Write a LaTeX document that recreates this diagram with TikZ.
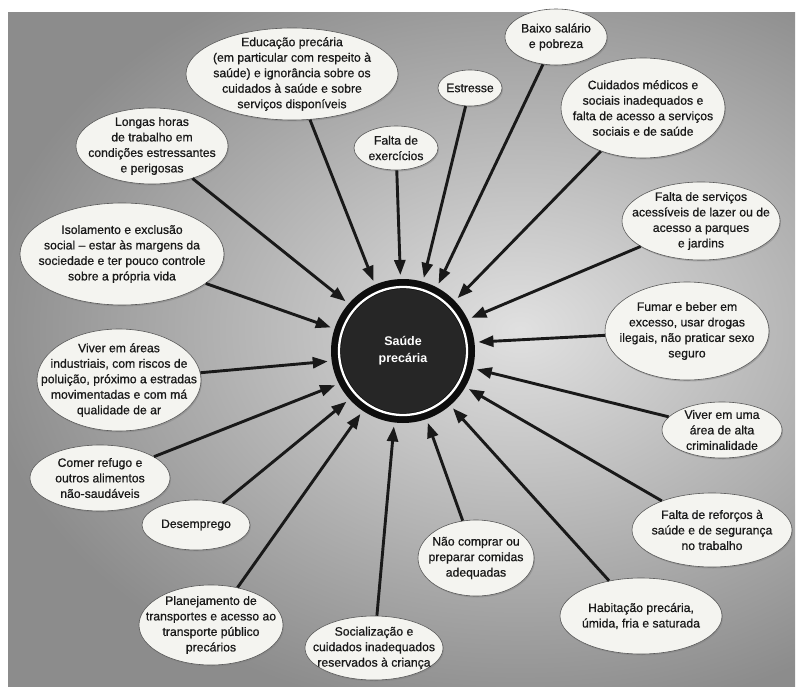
\documentclass[tikz,border=0pt]{standalone}
\usepackage{fontspec}
\setmainfont{Liberation Sans}
\newfontfamily\bubfont[FakeBold=0.7]{Liberation Sans}
\usetikzlibrary{shapes.geometric,arrows.meta,shadows}
\definecolor{bubfill}{HTML}{F4F4F0}
\begin{document}
\begin{tikzpicture}[x=1pt,y=-1pt,
  bub/.style={ellipse, fill=bubfill, draw=black!65, line width=0.6pt, inner sep=0pt,
    drop shadow={shadow xshift=1pt,shadow yshift=-1.5pt,opacity=0.45}},
  btext/.style={align=center, inner sep=0pt, text=black!90,
    font=\bubfont\fontsize{12.2}{15.5}\selectfont},
  arr/.style={line width=2.9pt, draw=black!90, -{Triangle[length=15pt,width=11pt]}, shorten >=4pt}]
\useasboundingbox (0,0) rectangle (799,692);
\fill[white] (0,0) rectangle (799,692);
\begin{scope}
  \clip (8,13) rectangle (795,686);
  \shade[inner color=black!12, outer color=black!45] (-20,-60) rectangle (1060,720);
\end{scope}

% centre
\node[circle, fill=black!95, minimum size=144pt, inner sep=0pt, outer sep=0pt] (c) at (403,351) {};
\fill[black!85] (c.center) circle[radius=62pt];
\draw[white, line width=2.3pt] (c.center) circle[radius=64pt];
\node[text=white, align=center, font=\bfseries\fontsize{12.5}{17}\selectfont] (ct) at (403,351) {Saúde\\precária};

% bubbles
\node[bub, minimum width=212pt, minimum height=92pt] (e1) at (292,74) {};
\node[btext] (t1) at (e1) {Educação precária\\(em particular com respeito à\\saúde) e ignorância sobre os\\cuidados à saúde e sobre\\serviços disponíveis};
\node[bub, minimum width=152pt, minimum height=76pt] (e2) at (152,146) {};
\node[btext] (t2) at (e2) {Longas horas\\de trabalho em\\condições estressantes\\e perigosas};
\node[bub, minimum width=204pt, minimum height=102pt] (e3) at (122,254) {};
\node[btext] (t3) at (e3) {Isolamento e exclusão\\social – estar às margens da\\sociedade e ter pouco controle\\sobre a própria vida};
\node[bub, minimum width=164pt, minimum height=102pt] (e4) at (119,380) {};
\node[btext] (t4) at (e4) {Viver em áreas\\industriais, com riscos de\\poluição, próximo a estradas\\movimentadas e com má\\qualidade de ar};
\node[bub, minimum width=140pt, minimum height=66pt] (e5) at (100,478) {};
\node[btext] (t5) at (e5) {Comer refugo e\\outros alimentos\\não-saudáveis};
\node[bub, minimum width=108pt, minimum height=50pt] (e6) at (196,525) {};
\node[btext] (t6) at (e6) {Desemprego};
\node[bub, minimum width=144pt, minimum height=80pt] (e7) at (211,625) {};
\node[btext] (t7) at (e7) {Planejamento de\\transportes e acesso ao\\transporte público\\precários};
\node[bub, minimum width=138pt, minimum height=64pt] (e8) at (374,648) {};
\node[btext] (t8) at (e8) {Socialização e\\cuidados inadequados\\reservados à criança};
\node[bub, minimum width=116pt, minimum height=76pt] (e9) at (476,558) {};
\node[btext] (t9) at (e9) {Não comprar ou\\preparar comidas\\adequadas};
\node[bub, minimum width=162pt, minimum height=76pt] (e10) at (641,616) {};
\node[btext] (t10) at (e10) {Habitação precária,\\úmida, fria e saturada};
\node[bub, minimum width=160pt, minimum height=74pt] (e11) at (712,530) {};
\node[btext] (t11) at (e11) {Falta de reforços à\\saúde e de segurança\\no trabalho};
\node[bub, minimum width=120pt, minimum height=56pt] (e12) at (722,430) {};
\node[btext] (t12) at (e12) {Viver em uma\\área de alta\\criminalidade};
\node[bub, minimum width=164pt, minimum height=98pt] (e13) at (687,331) {};
\node[btext] (t13) at (e13) {Fumar e beber em\\excesso, usar drogas\\ilegais, não praticar sexo\\seguro};
\node[bub, minimum width=158pt, minimum height=78pt] (e14) at (701,221) {};
\node[btext] (t14) at (e14) {Falta de serviços\\acessíveis de lazer ou de\\acesso a parques\\e jardins};
\node[bub, minimum width=164pt, minimum height=100pt] (e15) at (643,108) {};
\node[btext] (t15) at (e15) {Cuidados médicos e\\sociais inadequados e\\falta de acesso a serviços\\sociais e de saúde};
\node[bub, minimum width=102pt, minimum height=56pt] (e16) at (556,37) {};
\node[btext] (t16) at (e16) {Baixo salário\\e pobreza};
\node[bub, minimum width=64pt, minimum height=36pt] (e17) at (470,88) {};
\node[btext] (t17) at (e17) {Estresse};
\node[bub, minimum width=84pt, minimum height=44pt] (e18) at (396,148) {};
\node[btext] (t18) at (e18) {Falta de\\exercícios};

% arrows
\draw[arr] (e1) -- (c.113);
\draw[arr] (e2) -- (c.139);
\draw[arr] (e3) -- (c.162);
\draw[arr] (e4) -- (c.-172);
\draw[arr] (e5) -- (c.-153);
\draw[arr] (e6) -- (c.-138);
\draw[arr] (e7) -- (c.-124);
\draw[arr] (e8) -- (c.-97);
\draw[arr] (e9) -- (c.-71);
\draw[arr] (e10) -- (c.-49);
\draw[arr] (e11) -- (c.-30);
\draw[arr] (e12) -- (c.-14);
\draw[arr] (e13) -- (c.7);
\draw[arr] (e14) -- (c.26);
\draw[arr] (e15) -- (c.44);
\draw[arr] (e16) -- (c.62);
\draw[arr] (e17) -- (c.74);
\draw[arr] (e18) -- (c.92);
\end{tikzpicture}
\end{document}
